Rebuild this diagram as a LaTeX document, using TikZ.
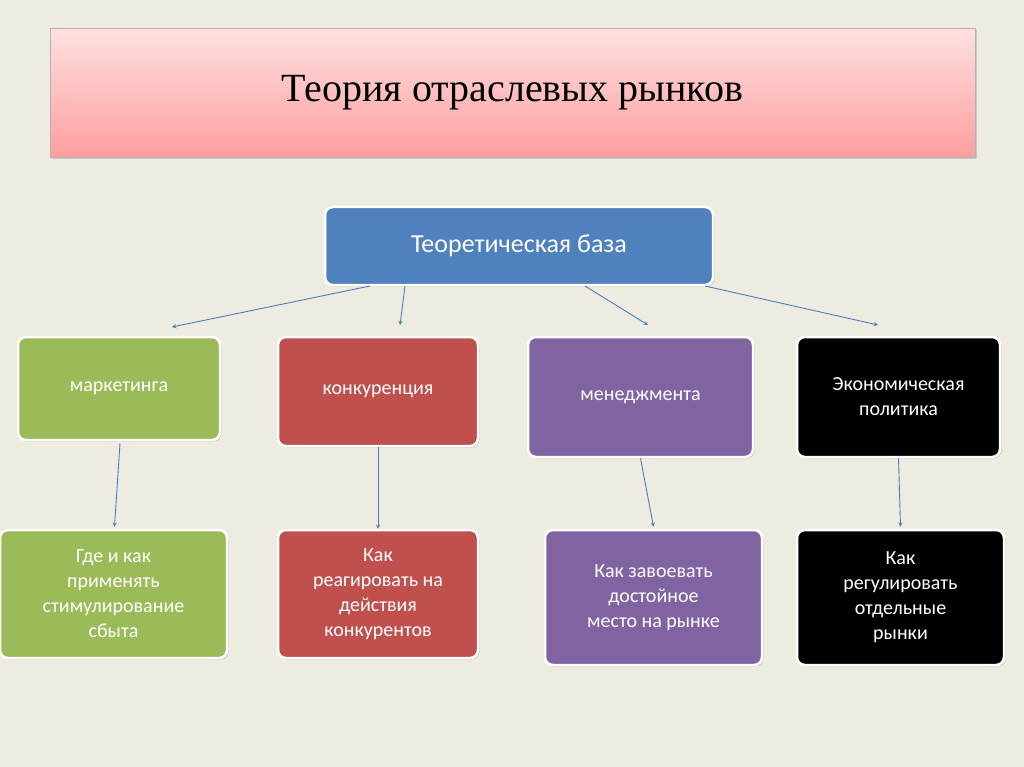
\documentclass[tikz,border=0pt]{standalone}
\usepackage{fontspec}
\setmainfont{Carlito}
\newfontfamily\titlefont{Liberation Serif}
\usetikzlibrary{positioning,calc,shadows}
\definecolor{bgc}{HTML}{EEECE1}
\definecolor{blueb}{HTML}{4F81BD}
\definecolor{greenb}{HTML}{9BBB59}
\definecolor{redb}{HTML}{C0504D}
\definecolor{purpleb}{HTML}{8064A2}
\definecolor{arrowc}{HTML}{4A7EBB}
\tikzset{
  box/.style={draw=white, line width=2.5pt, rounded corners=8pt, text=white,
    align=center, font=\fontsize{20}{25}\selectfont, inner sep=4pt,
    drop shadow={shadow xshift=1.5pt, shadow yshift=-1.5pt, opacity=0.35}},
  link/.style={->, >=stealth, draw=arrowc, line width=0.9pt}
}
\begin{document}
\begin{tikzpicture}[x=1pt,y=-1pt]
\useasboundingbox[fill=bgc] (0,0) rectangle (1024,767);
% title
\node[draw=gray!60, top color=red!12, bottom color=red!38, minimum width=925pt,
  minimum height=129pt, drop shadow={opacity=0.3}] (title) at (512.5,92.5)
  {\titlefont\fontsize{40}{48}\selectfont Теория отраслевых рынков};
\node[box, fill=blueb, minimum width=388pt, minimum height=78pt,
  font=\fontsize{26}{30}\selectfont] (base) at (519,246) {Теоретическая база};
% first row
\node[box, fill=greenb, minimum width=202pt, minimum height=103pt] (mark) at (119,388.5) {маркетинга};
\node[box, fill=redb, minimum width=200pt, minimum height=109pt] (konk) at (378,391.5) {конкуренция};
\node[box, fill=purpleb, minimum width=225pt, minimum height=120pt] (men) at (640.5,397) {менеджмента};
\node[box, fill=black, minimum width=203pt, minimum height=120pt] (econ) at (898.5,397) {Экономическая\\политика};
% second row
\node[box, fill=greenb, minimum width=227pt, minimum height=128pt] (markq) at (113.5,594) {Где и как\\применять\\стимулирование\\сбыта};
\node[box, fill=redb, minimum width=200pt, minimum height=128pt] (konkq) at (378,594) {Как\\реагировать на\\действия\\конкурентов};
\node[box, fill=purpleb, minimum width=217pt, minimum height=135pt] (menq) at (653.5,597.5) {Как завоевать\\достойное\\место на рынке};
\node[box, fill=black, minimum width=207pt, minimum height=135pt] (econq) at (900.5,597.5) {Как\\регулировать\\отдельные\\рынки};
% arrow ends
\coordinate (b1) at (370,286);
\coordinate (b2) at (405,286);
\coordinate (b3) at (585,286);
\coordinate (b4) at (705,286);
\coordinate (t1) at (172,327);
\coordinate (t2) at (400,325);
\coordinate (t3) at (648,325);
\coordinate (t4) at (878,325);
\draw[link] (b1) -- (t1);
\draw[link] (b2) -- (t2);
\draw[link] (b3) -- (t3);
\draw[link] (b4) -- (t4);
\draw[link] ($(mark.south)+(1,2)$) -- ($(markq.north)+(1,-2)$);
\draw[link] (konk.south) -- (konkq.north);
\draw[link] (men.south) -- ($(menq.north)+(0,-2)$);
\draw[link] (econ.south) -- ($(econq.north)+(0,-2)$);
\end{tikzpicture}
\end{document}
